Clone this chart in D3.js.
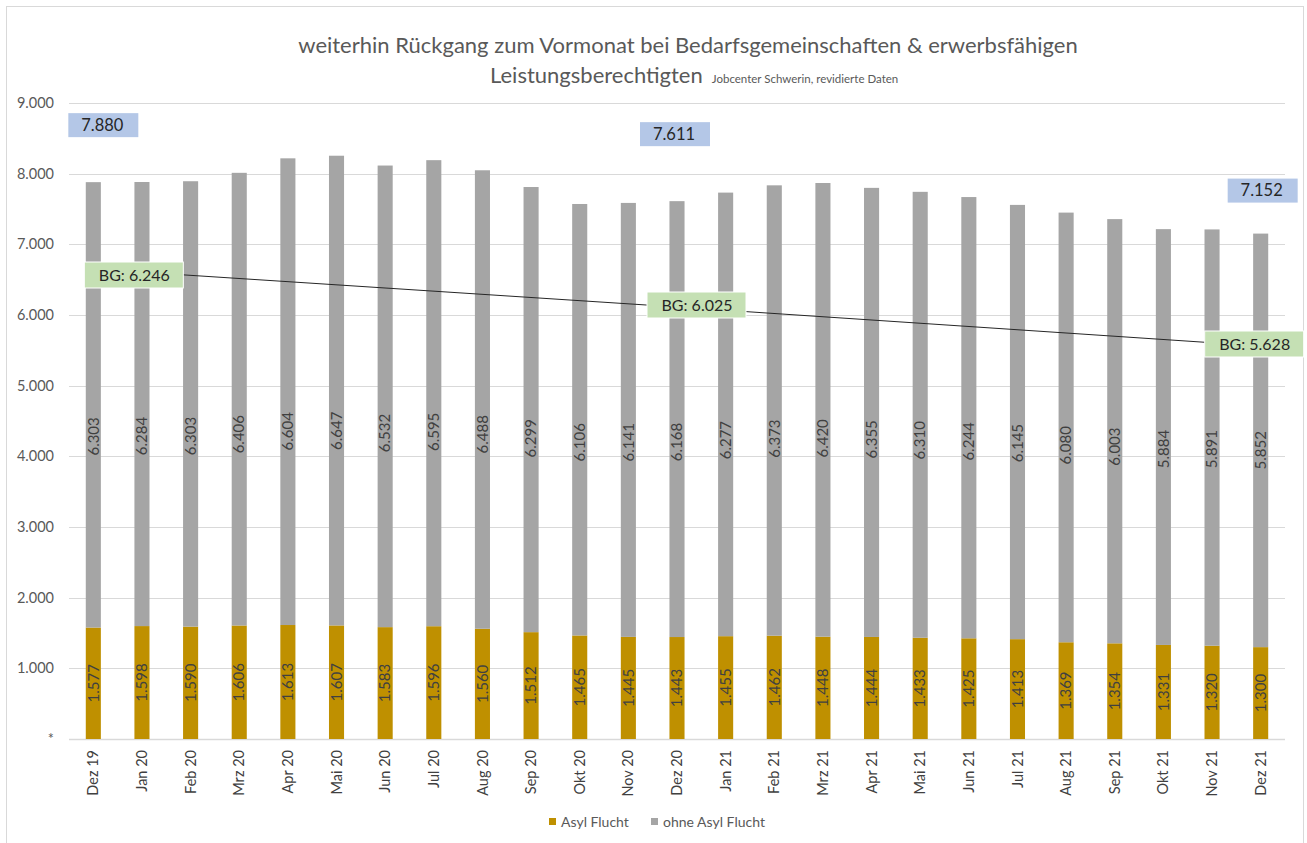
<!DOCTYPE html>
<html>
<head>
<meta charset="utf-8">
<script src="https://cdn.jsdelivr.net/npm/d3@7"></script>
<style>
  body { margin: 0; background: #fff; }
  svg { display: block; font-family: Lato, "Open Sans", sans-serif; }
</style>
</head>
<body>
<svg id="chart" width="1307" height="843"></svg>
<script>
// chart data
var months = ['Dez 19', 'Jan 20', 'Feb 20', 'Mrz 20', 'Apr 20', 'Mai 20', 'Jun 20', 'Jul 20', 'Aug 20',
    'Sep 20', 'Okt 20', 'Nov 20', 'Dez 20', 'Jan 21', 'Feb 21', 'Mrz 21', 'Apr 21', 'Mai 21', 'Jun 21',
    'Jul 21', 'Aug 21', 'Sep 21', 'Okt 21', 'Nov 21', 'Dez 21'];
var asylFlucht = [1577, 1598, 1590, 1606, 1613, 1607, 1583, 1596, 1560, 1512, 1465, 1445, 1443,
    1455, 1462, 1448, 1444, 1433, 1425, 1413, 1369, 1354, 1331, 1320, 1300];
var ohneAsyl = [6303, 6284, 6303, 6406, 6604, 6647, 6532, 6595, 6488, 6299, 6106, 6141, 6168,
    6277, 6373, 6420, 6355, 6310, 6244, 6145, 6080, 6003, 5884, 5891, 5852];
var yTicks = [0, 1000, 2000, 3000, 4000, 5000, 6000, 7000, 8000, 9000];
var bgMonths = ['Dez 19', 'Dez 20', 'Dez 21'];
var bgValues = [6246, 6025, 5628];
var totalMonths = ['Dez 19', 'Dez 20', 'Dez 21'];

var fmt = d3.formatLocale({decimal: ',', thousands: '.', grouping: [3]}).format(',d');

var svg = d3.select('#chart');
var margin = {top: 103, right: 22, bottom: 104, left: 69};
var W = 1307, H = 843;
var plotW = W - margin.left - margin.right,
    plotH = H - margin.top - margin.bottom;

// outer frame
svg.append('rect')
    .attr('x', 6.5).attr('y', 6.5)
    .attr('width', 1297).attr('height', 845)
    .style('fill', 'none').style('stroke', '#d9d9d9');

// title
svg.append('text')
    .attr('x', 688).attr('y', 53)
    .style('text-anchor', 'middle')
    .style('font-size', '22px')
    .style('fill', '#595959')
    .text('weiterhin Rückgang zum Vormonat bei Bedarfsgemeinschaften & erwerbsfähigen');
var title2 = svg.append('text')
    .attr('x', 490).attr('y', 83)
    .style('font-size', '22px')
    .style('fill', '#595959');
title2.append('tspan').text('Leistungsberechtigten');
title2.append('tspan').style('font-size', '11.5px').attr('dx', 9).text('Jobcenter Schwerin, revidierte Daten');

var g = svg.append('g').attr('transform', 'translate(' + margin.left + ',' + margin.top + ')');

var x = d3.scaleBand().domain(months).range([0, plotW]).paddingInner(0.69).paddingOuter(0.345);
var y = d3.scaleLinear().domain([0, 9000]).range([plotH, 0]);
// secondary scale for the BG line
var y2 = d3.scaleLinear().domain([5628, 6025, 6246]).range([243, 204, 166]);

// gridlines
g.selectAll('line.grid').data(yTicks).enter().append('line')
    .attr('class', 'grid')
    .attr('x1', 0).attr('x2', plotW)
    .attr('y1', function(d) { return Math.round(y(d)) + 0.5; })
    .attr('y2', function(d) { return Math.round(y(d)) + 0.5; })
    .style('stroke', '#d9d9d9')
    .style('stroke-width', function(d) { return d === 0 ? 1.5 : 1; });

// y tick labels
g.selectAll('text.ytick').data(yTicks).enter().append('text')
    .attr('class', 'ytick')
    .attr('x', -15)
    .attr('y', function(d) { return y(d); })
    .attr('dy', '0.35em')
    .style('text-anchor', 'end')
    .style('font-size', '14.5px')
    .style('fill', '#595959')
    .text(function(d) { return d === 0 ? '*' : fmt(d); });

// stacked bars
var rows = months.map(function(m, i) {
    return {month: m, asyl: asylFlucht[i], ohne: ohneAsyl[i]};
});

g.selectAll('rect.asyl').data(rows).enter().append('rect')
    .attr('class', 'asyl')
    .attr('x', function(d) { return x(d.month); })
    .attr('width', x.bandwidth())
    .attr('y', function(d) { return y(d.asyl); })
    .attr('height', function(d) { return y(0) - y(d.asyl); })
    .style('fill', '#bf9000');

g.selectAll('rect.ohne').data(rows).enter().append('rect')
    .attr('class', 'ohne')
    .attr('x', function(d) { return x(d.month); })
    .attr('width', x.bandwidth())
    .attr('y', function(d) { return y(d.asyl + d.ohne); })
    .attr('height', function(d) { return y(d.asyl) - y(d.asyl + d.ohne); })
    .style('fill', '#a5a5a5');

// value labels inside bars (rotated)
function barLabel(cls, yPos, val) {
    g.selectAll('text.' + cls).data(rows).enter().append('text')
        .attr('class', cls)
        .attr('transform', function(d) {
            return 'translate(' + (x(d.month) + x.bandwidth() / 2) + ',' + yPos(d) + ') rotate(-90)';
        })
        .attr('dy', '0.35em')
        .style('text-anchor', 'middle')
        .style('font-size', '15px')
        .style('fill', '#404040')
        .text(function(d) { return fmt(val(d)); });
}
barLabel('lab-asyl', function(d) { return (y(0) + y(d.asyl)) / 2; }, function(d) { return d.asyl; });
barLabel('lab-ohne', function(d) {
    var mid = (y(d.asyl) + y(d.asyl + d.ohne)) / 2;
    return 328 + 0.39 * (mid - 288);
}, function(d) { return d.ohne; });

// x axis labels
g.selectAll('text.xlab').data(months).enter().append('text')
    .attr('class', 'xlab')
    .attr('transform', function(d) {
        return 'translate(' + (x(d) + x.bandwidth() / 2) + ',' + (plotH + 11) + ') rotate(-90)';
    })
    .attr('dy', '0.35em')
    .style('text-anchor', 'end')
    .style('font-size', '14.5px')
    .style('fill', '#404040')
    .text(function(d) { return d; });

// BG line
var line = d3.line()
    .x(function(d, i) { return x(bgMonths[i]) + x.bandwidth() / 2; })
    .y(function(d) { return y2(d); });
g.append('path')
    .attr('d', line(bgValues))
    .style('fill', 'none')
    .style('stroke', '#262626')
    .style('stroke-width', 1);

// BG labels (green boxes)
var bgShift = [[41, 6], [20, -2], [-6, -2]];
bgValues.forEach(function(v, i) {
    var cx = x(bgMonths[i]) + x.bandwidth() / 2 + bgShift[i][0],
        cy = y2(v) + bgShift[i][1];
    g.append('rect')
        .attr('x', cx - 50).attr('y', cy - 13)
        .attr('width', 99).attr('height', 26)
        .style('fill', '#c5e0b4').style('stroke', '#fff').style('stroke-width', 1);
    g.append('text')
        .attr('x', cx).attr('y', cy)
        .attr('dy', '0.35em')
        .style('text-anchor', 'middle')
        .style('font-size', '16px')
        .style('fill', '#262626')
        .text('BG: ' + fmt(v));
});

// totals (blue boxes)
var totalShift = [[10, -57], [-2, -67], [2, -43]];
totalMonths.forEach(function(m, i) {
    var k = months.indexOf(m),
        total = asylFlucht[k] + ohneAsyl[k];
    var cx = x(m) + x.bandwidth() / 2 + totalShift[i][0],
        cy = y(total) + totalShift[i][1];
    g.append('rect')
        .attr('x', cx - 35).attr('y', cy - 12)
        .attr('width', 70).attr('height', 24)
        .style('fill', '#b4c7e7');
    g.append('text')
        .attr('x', cx - 1).attr('y', cy)
        .attr('dy', '0.35em')
        .style('text-anchor', 'middle')
        .style('font-size', '16.5px')
        .style('fill', '#262626')
        .text(fmt(total));
});

// legend
var legend = [['Asyl Flucht', '#bf9000', 549], ['ohne Asyl Flucht', '#a5a5a5', 651]];
legend.forEach(function(l) {
    svg.append('rect')
        .attr('x', l[2]).attr('y', 818)
        .attr('width', 7).attr('height', 7)
        .style('fill', l[1]);
    svg.append('text')
        .attr('x', l[2] + 12).attr('y', 822)
        .attr('dy', '0.35em')
        .style('font-size', '14px')
        .style('fill', '#595959')
        .text(l[0]);
});
</script>
</body>
</html>
